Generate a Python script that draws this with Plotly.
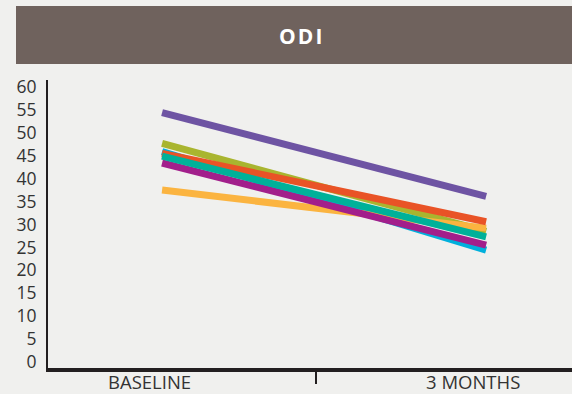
import plotly.graph_objects as go

# Time points
categories = ["BASELINE", "3 MONTHS"]

# ODI scores per patient group (baseline, 3 months)
cyan_vals = [45.9, 24.4]
olive_vals = [47.7, 28.5]
yellow_vals = [37.5, 29.2]
orange_vals = [45.5, 30.6]
magenta_vals = [43.4, 25.5]
teal_vals = [44.9, 27.3]
purple_vals = [54.4, 36.1]

# y-axis ticks
y_ticks = list(range(0, 61, 5))

series = [
    (cyan_vals, "#00b0dc"),
    (olive_vals, "#a9b52f"),
    (yellow_vals, "#fbb440"),
    (orange_vals, "#e95326"),
    (magenta_vals, "#a21f8b"),
    (teal_vals, "#00b199"),
    (purple_vals, "#6e54a3"),
]

x_pos = list(range(len(categories)))
x_range = [-0.352, 1.265]

fig = go.Figure()
for vals, color in series:
    fig.add_trace(go.Scatter(
        x=x_pos, y=vals, mode="lines",
        line=dict(color=color, width=7),
        hoverinfo="skip", showlegend=False,
    ))

bg = "#f0f0ee"
W, H = 572, 394
ml, mr, mt, mb = 48, 0, 80, 26
pw, ph = W - ml - mr, H - mt - mb

def px_to_paper_x(px):
    return (px - ml) / pw

def px_to_paper_y(py):
    return (H - mb - py) / ph

# category labels under the axis
category_labels = [
    dict(text=cat, x=xv, xref="x", y=px_to_paper_y(381.5), yref="paper",
         xanchor="center", yanchor="middle", xshift=-13, showarrow=False,
         font=dict(family="Open Sans, sans-serif", size=18.5, color="#333333"))
    for cat, xv in zip(categories, x_pos)
]

fig.update_layout(
    width=W, height=H,
    margin=dict(l=ml, r=mr, t=mt, b=mb),
    paper_bgcolor=bg, plot_bgcolor=bg,
    font=dict(family="Open Sans, Lato, sans-serif", color="#333333"),
    xaxis=dict(
        automargin=False,
        range=x_range,
        tickmode="array", tickvals=[0.475], showticklabels=False,
        ticks="outside", ticklen=12, tickwidth=2, tickcolor="#231f20",
        showgrid=False, zeroline=False,
        showline=True, linecolor="#231f20", linewidth=4,
    ),
    yaxis=dict(
        automargin=False,
        range=[-1.3, 61.5],
        tickmode="array", tickvals=y_ticks,
        ticks="", ticklabelstandoff=6,
        tickfont=dict(size=17.5, color="#333333"),
        showgrid=False, zeroline=False,
        showline=True, linecolor="#231f20", linewidth=2,
    ),
    shapes=[dict(
        type="rect", xref="paper", yref="paper",
        x0=px_to_paper_x(16), x1=px_to_paper_x(572),
        y0=px_to_paper_y(64), y1=px_to_paper_y(6),
        fillcolor="#6f625d", line=dict(width=0), layer="above",
    )],
    annotations=[dict(
        text="<b>O\u200aD\u200aI</b>", xref="paper", yref="paper",
        x=px_to_paper_x(300), y=px_to_paper_y(35.5),
        xanchor="center", yanchor="middle", showarrow=False,
        font=dict(family="Open Sans, sans-serif", size=21, color="#ffffff"),
    )] + category_labels,
)

fig.write_html("out.html")
